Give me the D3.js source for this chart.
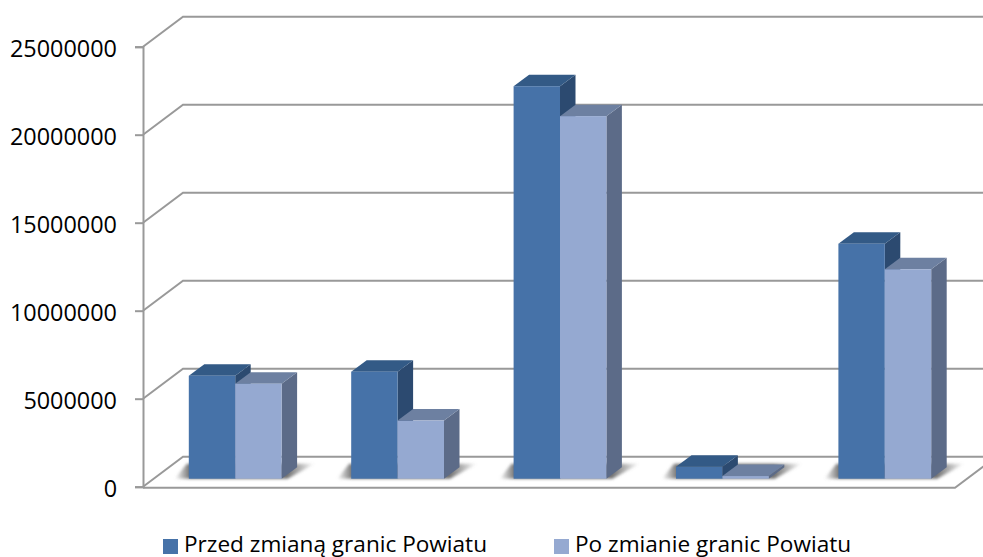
<!DOCTYPE html>
<html>
<head>
<meta charset="utf-8">
<script src="https://cdn.jsdelivr.net/npm/d3@7"></script>
<style>
  html, body { margin: 0; padding: 0; background: #fff; overflow: hidden; }
  text { font-family: "Open Sans", sans-serif; fill: #000; }
</style>
</head>
<body>
<svg id="chart" width="983" height="557"></svg>
<script>
// no category names on the picture, just five groups
let categories = [1, 2, 3, 4, 5]
let seriesNames = ['Przed zmianą granic Powiatu', 'Po zmianie granic Powiatu']
let przed = [5850000, 6080000, 22300000, 680000, 13350000]
let po = [5400000, 3300000, 20600000, 150000, 11900000]
let yTicks = [0, 5000000, 10000000, 15000000, 20000000, 25000000]

let frontColors = ['#4672a8', '#95a9d1']
let topColors = ['#335a86', '#6d80a1']
let sideColors = ['#2c4a70', '#5c6b88']

let width = 983
let height = 557
let gridColor = '#999'
let shadowColor = '#707070'

// front plane of the box
let plotLeft = 143
let plotRight = 955
let plotBottom = 486.7
let plotTop = 46.7

// how far the back wall sits from the front plane
let wallDx = 40
let wallDy = -30
// bars stand a bit in from the front edge of the floor
let barShiftX = 11
let barShiftY = -8
let barDx = 15.5
let barDy = -11.5

let svg = d3.select('#chart')

let y = d3.scaleLinear().domain([0, 25000000]).range([plotBottom, plotTop])
let x = d3.scaleBand().domain(categories).range([plotLeft, plotRight])
let xInner = d3.scaleBand().domain([0, 1]).range([0, x.bandwidth()]).paddingInner(0).paddingOuter(0.75)

let defs = svg.append('defs')
defs.append('filter').attr('id', 'blur')
    .attr('x', '-10%').attr('y', '-30%').attr('width', '120%').attr('height', '160%')
    .append('feGaussianBlur').attr('stdDeviation', 1.5)

// shadow fades out to both sides
let shadowGrad = defs.append('linearGradient').attr('id', 'shadowGrad')
shadowGrad.append('stop').attr('offset', '0%').attr('stop-color', shadowColor).attr('stop-opacity', 0)
shadowGrad.append('stop').attr('offset', '11%').attr('stop-color', shadowColor).attr('stop-opacity', 1)
shadowGrad.append('stop').attr('offset', '80%').attr('stop-color', shadowColor).attr('stop-opacity', 1)
shadowGrad.append('stop').attr('offset', '100%').attr('stop-color', shadowColor).attr('stop-opacity', 0)

let grid = svg.append('g')
let shadows = svg.append('g')
let bars = svg.append('g')
let legend = svg.append('g')

// back wall lines and the diagonals on the side wall
yTicks.forEach(t => {
    grid.append('path')
        .attr('d', `M${plotLeft},${y(t)}L${plotLeft + wallDx},${y(t) + wallDy}L${width},${y(t) + wallDy}`)
        .attr('fill', 'none')
        .attr('stroke', gridColor)
        .attr('stroke-width', 2)
})

// floor front edge and right side
grid.append('path')
    .attr('d', `M${plotLeft},${plotBottom + 1}L${plotRight},${plotBottom + 1}L${plotRight + wallDx},${plotBottom + 1 + wallDy}`)
    .attr('fill', 'none')
    .attr('stroke', gridColor)
    .attr('stroke-width', 2)

let axis = d3.axisLeft(y)
    .tickValues(yTicks)
    .tickFormat(d3.format('d'))
    .tickSize(8)
    .tickPadding(18)

let axisG = svg.append('g')
    .attr('transform', `translate(${plotLeft},0)`)
    .call(axis)
axisG.select('.domain').attr('stroke', gridColor).attr('stroke-width', 2)
axisG.selectAll('.tick line').attr('stroke', gridColor).attr('stroke-width', 2)
axisG.selectAll('text')
    .attr('font-size', 23.4)
    .attr('dy', '0.43em')
    .style('font-family', '"Open Sans", sans-serif')

// soft shadow on the floor
categories.forEach(c => {
    let x0 = x(c) + xInner(0) + barShiftX
    let x1 = x(c) + xInner(1) + xInner.bandwidth() + barShiftX
    let base = y(0) + barShiftY
    shadows.append('path')
        .attr('d', `M${x0 - 14},${base}L${x1 + 6},${base}L${x1 + 33},${base - 15}L${x0 - 2},${base - 15}Z`)
        .attr('fill', 'url(#shadowGrad)')
        .attr('filter', 'url(#blur)')
})

function drawBar(c, s, value) {
    let x0 = x(c) + xInner(s) + barShiftX
    let w = xInner.bandwidth()
    let base = y(0) + barShiftY
    let yTop = y(value) + barShiftY

    let g = bars.append('g')
    // side
    g.append('path')
        .attr('d', `M${x0 + w},${yTop}L${x0 + w + barDx},${yTop + barDy}L${x0 + w + barDx},${base + barDy}L${x0 + w},${base}Z`)
        .attr('fill', sideColors[s])
    // top
    g.append('path')
        .attr('d', `M${x0},${yTop}L${x0 + barDx},${yTop + barDy}L${x0 + w + barDx},${yTop + barDy}L${x0 + w},${yTop}Z`)
        .attr('fill', topColors[s])
    // front
    g.append('rect')
        .attr('x', x0)
        .attr('y', yTop)
        .attr('width', w)
        .attr('height', base - yTop)
        .attr('fill', frontColors[s])
}

categories.forEach((c, i) => {
    drawBar(c, 0, przed[i])
    drawBar(c, 1, po[i])
})

// legend
let legendX = [163, 554]
seriesNames.forEach((name, i) => {
    legend.append('rect')
        .attr('x', legendX[i])
        .attr('y', 539)
        .attr('width', 15)
        .attr('height', 15)
        .attr('fill', frontColors[i])
    legend.append('text')
        .attr('x', legendX[i] + 21)
        .attr('y', 551.5)
        .attr('font-size', 22.6)
        .text(name)
})
</script>
</body>
</html>
